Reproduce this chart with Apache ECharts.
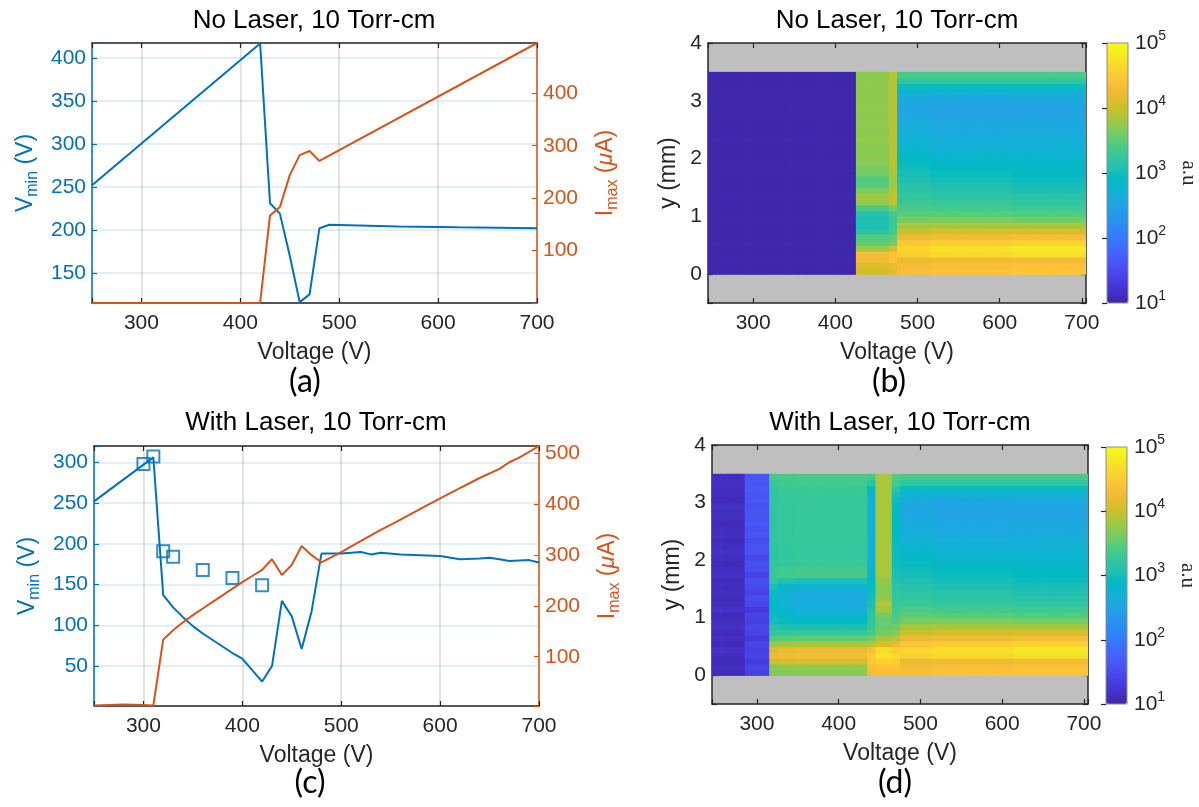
<!DOCTYPE html>
<html>
<head>
<meta charset="utf-8">
<title>Vmin / Imax and emission maps, 10 Torr-cm</title>
<script src="https://cdn.jsdelivr.net/npm/echarts@6/dist/echarts.min.js"></script>
<style>
  html, body { margin: 0; padding: 0; background: #fff; }
  #chart { width: 1199px; height: 807px; }
</style>
</head>
<body>
<div id="chart"></div>
<script>
// ---- panel (a): no laser ----
var vminVoltA = [250, 420, 430, 440, 450, 460, 470, 480, 490, 560, 620, 700];
var vminA = [252, 417, 231, 219, 170, 116, 125, 202, 206, 204, 203, 202];
var imaxVoltA = [250, 420, 430, 440, 450, 460, 470, 480, 700];
var imaxA = [0, 0, 167, 183, 244, 282, 290, 271, 496];

// ---- panel (c): with laser ----
var vminVoltC = [250, 310, 320, 330, 340, 350, 360, 370, 380, 390, 400, 410, 420,
  430, 440, 450, 460, 470, 480,
  500, 520, 530, 540, 560, 580, 600, 620, 640, 650, 660, 670, 690, 700];
var vminC = [252, 306, 137, 122, 110, 99, 90, 82, 74, 66, 59, 45, 31,
  50, 130, 111, 71, 117, 188,
  188, 190, 187, 189, 187, 186, 185, 181, 182, 183, 181, 179, 180, 177];
var imaxVoltC = [250, 280, 300, 310,
  320, 330, 340, 350, 360, 370, 380, 390, 400, 410, 420, 430, 440, 450, 460, 470, 480,
  500, 520, 540, 560, 580, 600, 620, 640, 660, 670, 680, 700];
var imaxC = [4, 6, 5, 4,
  134, 152, 168, 182, 195, 208, 221, 234, 247, 259, 271, 292, 261, 281, 318, 300, 286,
  306, 328, 350, 370, 391, 412, 432, 452, 470, 483, 492, 515];
var markVoltC = [300, 310, 320, 330, 360, 390, 420];
var markC = [298, 307, 191, 184, 168, 158, 149];

// ---- maps (b) and (d): log10 of intensity, columns of 10 V, rows of 0.1 mm ----
var cellVolt = [250, 260, 270, 280, 290, 300, 310, 320, 330, 340, 350, 360, 370, 380, 390,
  400, 410, 420, 430, 440, 450, 460, 470, 480, 490, 500, 510, 520, 530, 540, 550,
  560, 570, 580, 590, 600, 610, 620, 630, 640, 650, 660, 670, 680, 690, 700];
var cellY = [0.05, 0.15, 0.25, 0.35, 0.45, 0.55, 0.65, 0.75, 0.85, 0.95,
  1.05, 1.15, 1.25, 1.35, 1.45, 1.55, 1.65, 1.75, 1.85, 1.95,
  2.05, 2.15, 2.25, 2.35, 2.45, 2.55, 2.65, 2.75, 2.85, 2.95,
  3.05, 3.15, 3.25, 3.35, 3.45];

// vertical profiles, bottom (y = 0.05) to top (y = 3.45)
var darkB = [1.02, 1.02, 1.03, 1.02, 1.02, 1.03, 1.02, 1.02, 1.02, 1.03,
  1.02, 1.02, 1.02, 1.03, 1.02, 1.02, 1.02, 1.02, 1.03, 1.02,
  1.02, 1.02, 1.02, 1.03, 1.02, 1.02, 1.02, 1.02, 1.02, 1.03,
  1.02, 1.02, 1.02, 1.02, 1.02];
var col430B = [4.05, 4.1, 4.25, 4.3, 3.8, 3.5, 3.45, 3.15, 3.05, 3.05,
  3.1, 3.4, 3.75, 3.8, 3.65, 3.45, 3.45, 3.6, 3.62, 3.7,
  3.72, 3.7, 3.72, 3.74, 3.72, 3.72, 3.74, 3.72, 3.72, 3.74,
  3.72, 3.72, 3.74, 3.72, 3.72];
var col470B = [4.15, 4.2, 4.4, 4.45, 4.1, 3.6, 3.5, 3.35, 3.3, 3.3,
  3.35, 3.6, 3.95, 4.0, 3.9, 3.8, 3.8, 3.85, 3.88, 3.9,
  3.9, 3.9, 3.9, 3.9, 3.9, 3.9, 3.9, 3.9, 3.9, 3.9,
  3.9, 3.9, 3.9, 3.9, 3.9];
var afterNear = [4.35, 4.3, 4.2, 4.55, 4.62, 4.45, 4.22, 4.02, 3.82, 3.62,
  3.5, 3.4, 3.3, 3.24, 3.18, 3.12, 3.07, 3.02, 2.97, 2.92,
  2.87, 2.82, 2.77, 2.72, 2.68, 2.64, 2.6, 2.58, 2.56, 2.56,
  2.6, 2.74, 2.95, 3.2, 3.4];
var afterMid = [4.4, 4.35, 4.25, 4.65, 4.72, 4.52, 4.28, 4.06, 3.84, 3.63,
  3.48, 3.36, 3.27, 3.19, 3.12, 3.06, 3.0, 2.95, 2.9, 2.85,
  2.8, 2.75, 2.7, 2.66, 2.62, 2.58, 2.55, 2.53, 2.52, 2.52,
  2.56, 2.71, 2.95, 3.2, 3.4];
var afterFar = [4.45, 4.4, 4.3, 4.72, 4.82, 4.58, 4.33, 4.08, 3.84, 3.6,
  3.45, 3.32, 3.22, 3.14, 3.07, 3.01, 2.96, 2.91, 2.87, 2.83,
  2.79, 2.75, 2.71, 2.67, 2.63, 2.59, 2.56, 2.54, 2.53, 2.53,
  2.57, 2.71, 2.95, 3.2, 3.4];
var darkD = [1.1, 1.15, 1.08, 1.12, 1.18, 1.1, 1.14, 1.08, 1.16, 1.12,
  1.1, 1.18, 1.12, 1.08, 1.15, 1.12, 1.1, 1.16, 1.12, 1.1,
  1.14, 1.18, 1.12, 1.1, 1.15, 1.12, 1.08, 1.14, 1.12, 1.16,
  1.1, 1.13, 1.12, 1.15, 1.12];
var col290D = [1.35, 1.4, 1.3, 1.4, 1.35, 1.42, 1.3, 1.4, 1.45, 1.35,
  1.42, 1.3, 1.45, 1.5, 1.4, 1.48, 1.52, 1.4, 1.5, 1.55,
  1.45, 1.55, 1.58, 1.5, 1.6, 1.55, 1.62, 1.58, 1.6, 1.55,
  1.62, 1.6, 1.65, 1.6, 1.62];
var col320D = [3.65, 3.7, 4.05, 4.25, 4.15, 3.8, 3.45, 3.25, 3.1, 3.0,
  2.95, 2.92, 2.9, 2.9, 2.95, 3.05, 3.2, 3.3, 3.3, 3.22,
  3.2, 3.2, 3.2, 3.2, 3.2, 3.2, 3.2, 3.2, 3.2, 3.2,
  3.2, 3.22, 3.25, 3.3, 3.35];
var col330D = [3.68, 3.72, 4.08, 4.28, 4.18, 3.82, 3.48, 3.25, 3.07, 2.94,
  2.84, 2.78, 2.74, 2.72, 2.74, 2.85, 3.1, 3.36, 3.33, 3.26,
  3.23, 3.23, 3.24, 3.25, 3.26, 3.26, 3.26, 3.26, 3.26, 3.26,
  3.26, 3.28, 3.29, 3.33, 3.38];
var col350D = [3.7, 3.75, 4.1, 4.3, 4.2, 3.85, 3.5, 3.25, 3.05, 2.9,
  2.78, 2.7, 2.64, 2.6, 2.62, 2.75, 3.05, 3.4, 3.35, 3.28,
  3.25, 3.25, 3.26, 3.27, 3.28, 3.28, 3.28, 3.28, 3.28, 3.28,
  3.28, 3.3, 3.3, 3.35, 3.4];
var col440D = [4.3, 4.35, 4.45, 4.5, 4.35, 3.9, 3.6, 3.4, 3.3, 3.25,
  3.2, 3.1, 3.05, 3.0, 2.95, 2.9, 2.85, 2.8, 2.75, 2.72,
  2.7, 2.7, 2.7, 2.7, 2.7, 2.7, 2.7, 2.7, 2.7, 2.7,
  2.7, 2.75, 2.9, 3.15, 3.35];
var col450D = [4.35, 4.4, 4.55, 4.75, 4.7, 4.1, 3.85, 3.6, 3.55, 3.55,
  3.6, 3.85, 3.9, 3.75, 3.7, 3.7, 3.75, 3.85, 3.85, 3.85,
  3.85, 3.85, 3.85, 3.85, 3.85, 3.85, 3.85, 3.85, 3.85, 3.85,
  3.85, 3.85, 3.85, 3.85, 3.85];
var col470D = [4.35, 4.4, 4.55, 4.65, 4.5, 4.2, 3.9, 3.7, 3.55, 3.45,
  3.38, 3.32, 3.28, 3.25, 3.2, 3.15, 3.1, 3.05, 3.0, 2.98,
  2.95, 2.95, 2.93, 2.92, 2.9, 2.9, 2.9, 2.9, 2.9, 2.9,
  2.95, 3.05, 3.2, 3.35, 3.45];

// which profile starts at which voltage
var bandStartB = [250, 430, 470, 480, 520, 620];
var bandProfileB = [darkB, col430B, col470B, afterNear, afterMid, afterFar];
var bandStartD = [250, 290, 320, 330, 350, 440, 450, 470, 480, 520, 620];
var bandProfileD = [darkD, col290D, col320D, col330D, col350D, col440D, col450D, col470D,
  afterNear, afterMid, afterFar];

var FONT = '"Liberation Sans", Arial, Helvetica, sans-serif';
var LETTER_FONT = 'Lato, "Open Sans", sans-serif';
var BLUE = '#0072BD';
var ORANGE = '#D95319';
var INK = '#262626';
var PARULA = ['#3e26a8', '#4432cb', '#4741e5', '#4852f4', '#4563fd', '#3875fe', '#2e87f7',
  '#2796eb', '#20a5e3', '#12b1d6', '#02bac3', '#24c1ae', '#37c897', '#57cc7a', '#81cc59',
  '#abc739', '#d1bf27', '#f0ba36', '#fec338', '#fad62d', '#f5e924', '#f9fb15'];

function pairs(xs, ys) {
  return xs.map(function (x, i) { return [x, ys[i]]; });
}

function buildCells(starts, profiles) {
  var out = [];
  cellVolt.forEach(function (v) {
    var k = 0;
    var i;
    for (i = 0; i < starts.length; i++) {
      if (v >= starts[i]) {
        k = i;
      }
    }
    cellY.forEach(function (y, j) {
      out.push([v, y, profiles[k][j]]);
    });
  });
  return out;
}

function showEvery(step, low) {
  return function (v) {
    return (Math.abs(v % step) < 1e-9 && v >= low) ? String(v) : '';
  };
}

function xBottom(grid, min, max, split) {
  return {
    type: 'value', gridIndex: grid, min: min, max: max, position: 'bottom',
    name: 'Voltage (V)', nameLocation: 'middle', nameGap: 38,
    nameTextStyle: { color: INK, fontSize: 23, fontFamily: FONT },
    axisLine: { onZero: false, lineStyle: { color: INK, width: 1.5 } },
    axisTick: { inside: true, length: 5, lineStyle: { color: INK, width: 1.2 } },
    axisLabel: { color: INK, fontSize: 21, fontFamily: FONT, margin: 10, formatter: showEvery(100, 300) },
    splitLine: { show: split, lineStyle: { color: 'rgba(38,38,38,0.17)', width: 1.5 } }
  };
}

function xTop(grid, min, max) {
  return {
    type: 'value', gridIndex: grid, min: min, max: max, position: 'top',
    axisLine: { onZero: false, lineStyle: { color: INK, width: 1.5 } },
    axisTick: { inside: true, length: 5, lineStyle: { color: INK, width: 1.2 } },
    axisLabel: { show: false },
    splitLine: { show: false }
  };
}

function ySide(grid, min, max, pos, color, fmt, name, gap, split) {
  return {
    type: 'value', gridIndex: grid, min: min, max: max, position: pos,
    name: name, nameLocation: 'middle', nameGap: gap,
    nameTextStyle: {
      color: color, fontSize: 23, fontFamily: FONT, lineHeight: 30,
      rich: {
        sub: { fontSize: 16, color: color, fontFamily: FONT, verticalAlign: 'bottom', lineHeight: 30 },
        mu: { fontSize: 23, color: color, fontFamily: FONT, fontStyle: 'italic' }
      }
    },
    axisLine: { onZero: false, lineStyle: { color: color, width: 1.5 } },
    axisTick: { inside: true, length: 5, lineStyle: { color: color, width: 1.2 } },
    axisLabel: { show: !!fmt, color: color, fontSize: 21, fontFamily: FONT, margin: 6, formatter: fmt || '' },
    splitLine: { show: split, lineStyle: { color: 'rgba(0,114,189,0.15)', width: 1.5 } }
  };
}

function colorAxis(grid) {
  return {
    type: 'value', gridIndex: grid, min: 1, max: 5, interval: 1, position: 'right', z: 7,
    name: 'a.u', nameLocation: 'middle', nameRotate: -90, nameGap: 50,
    nameTextStyle: { color: INK, fontSize: 21, fontFamily: '"Liberation Serif", "DejaVu Serif", serif' },
    axisLine: { show: false },
    axisTick: { inside: true, length: 5, lineStyle: { color: INK, width: 1.2 } },
    axisLabel: {
      color: INK, fontSize: 21, fontFamily: FONT, margin: 7, lineHeight: 28,
      formatter: function (v) { return '10{sup|' + v + '}'; },
      rich: { sup: { fontSize: 14, fontFamily: FONT, color: INK, verticalAlign: 'top', lineHeight: 28 } }
    },
    splitLine: { show: false }
  };
}

function heatSeries(xIdx, yIdx, data) {
  var dv = cellVolt[1] - cellVolt[0];
  var dy = cellY[1] - cellY[0];
  return {
    type: 'custom', xAxisIndex: xIdx, yAxisIndex: yIdx, data: data, clip: true, silent: true,
    encode: { x: 0, y: 1 },
    renderItem: function (params, api) {
      var c = api.coord([api.value(0), api.value(1)]);
      var s = api.size([dv, dy]);
      return {
        type: 'rect',
        shape: { x: c[0] - s[0] / 2, y: c[1] - s[1] / 2, width: s[0] + 0.7, height: s[1] + 0.7 },
        style: { fill: api.visual('color') }
      };
    }
  };
}

function lineSeries(xIdx, yIdx, data, color) {
  return {
    type: 'line', xAxisIndex: xIdx, yAxisIndex: yIdx, data: data,
    showSymbol: false, symbol: 'none', silent: true,
    lineStyle: { color: color, width: 2 }
  };
}

function label(text, x, y, size, family) {
  return {
    type: 'text', x: x, y: y, silent: true,
    style: {
      text: text, fill: '#000', fontSize: size, fontFamily: family || FONT,
      align: 'center', verticalAlign: 'middle', textAlign: 'center', textVerticalAlign: 'middle'
    }
  };
}

var grids = [
  { left: 92, top: 43, width: 445, height: 260 },
  { left: 94, top: 446, width: 445, height: 260 },
  { left: 708, top: 43, width: 378, height: 260, show: true, backgroundColor: '#bfbfbf', borderWidth: 0 },
  { left: 712, top: 445, width: 376, height: 259, show: true, backgroundColor: '#bfbfbf', borderWidth: 0 },
  { left: 1107, top: 43, width: 21, height: 260, show: true, backgroundColor: 'transparent', borderColor: '#8c8c8c', borderWidth: 1, z: 6 },
  { left: 1106, top: 447, width: 21, height: 257, show: true, backgroundColor: 'transparent', borderColor: '#8c8c8c', borderWidth: 1, z: 6 }
];
grids.forEach(function (g) { g.outerBoundsMode = 'none'; g.containLabel = false; });

function hiddenX(grid) {
  return { type: 'value', gridIndex: grid, min: 0, max: 1, show: false };
}

var option = {
  animation: false,
  backgroundColor: '#ffffff',
  textStyle: { fontFamily: FONT },
  grid: grids,
  xAxis: [
    xBottom(0, 250, 700, true), xTop(0, 250, 700),
    xBottom(1, 250, 700, true), xTop(1, 250, 700),
    xBottom(2, 245, 705, false), xTop(2, 245, 705),
    xBottom(3, 245, 705, false), xTop(3, 245, 705),
    hiddenX(4), hiddenX(5)
  ],
  yAxis: [
    ySide(0, 115, 417.5, 'left', BLUE, showEvery(50, 150), 'V{sub|min} (V)', 51, true),
    ySide(0, 0, 496, 'right', ORANGE, showEvery(100, 100), 'I{sub|max} ({mu|μ}A)', 54, false),
    ySide(1, 1, 320, 'left', BLUE, showEvery(50, 50), 'V{sub|min} (V)', 51, true),
    ySide(1, 3, 515, 'right', ORANGE, showEvery(100, 100), 'I{sub|max} ({mu|μ}A)', 54, false),
    ySide(2, -0.5, 4, 'left', INK, showEvery(1, 0), 'y (mm)', 24, false),
    ySide(2, -0.5, 4, 'right', INK, null, '', 0, false),
    ySide(3, -0.5, 4, 'left', INK, showEvery(1, 0), 'y (mm)', 24, false),
    ySide(3, -0.5, 4, 'right', INK, null, '', 0, false),
    colorAxis(4), colorAxis(5)
  ],
  visualMap: [
    {
      type: 'continuous', seriesIndex: 5, dimension: 2, min: 1, max: 5,
      calculable: false, orient: 'vertical', left: 1107, top: 43, padding: 0,
      itemWidth: 21, itemHeight: 260, text: null, hoverLink: false,
      inRange: { color: PARULA }
    },
    {
      type: 'continuous', seriesIndex: 6, dimension: 2, min: 1, max: 5,
      calculable: false, orient: 'vertical', left: 1106, top: 447, padding: 0,
      itemWidth: 21, itemHeight: 257, text: null, hoverLink: false,
      inRange: { color: PARULA }
    }
  ],
  series: [
    lineSeries(0, 0, pairs(vminVoltA, vminA), BLUE),
    lineSeries(0, 1, pairs(imaxVoltA, imaxA), ORANGE),
    lineSeries(2, 2, pairs(vminVoltC, vminC), BLUE),
    lineSeries(2, 3, pairs(imaxVoltC, imaxC), ORANGE),
    {
      type: 'scatter', xAxisIndex: 2, yAxisIndex: 2, data: pairs(markVoltC, markC),
      symbol: 'rect', symbolSize: 12, silent: true,
      itemStyle: { color: 'rgba(0,0,0,0)', borderColor: BLUE, borderWidth: 2 }
    },
    heatSeries(4, 4, buildCells(bandStartB, bandProfileB)),
    heatSeries(6, 6, buildCells(bandStartD, bandProfileD))
  ],
  graphic: [
    label('No Laser, 10 Torr-cm', 314, 21, 26),
    label('No Laser, 10 Torr-cm', 897, 21, 26),
    label('With Laser, 10 Torr-cm', 316, 423, 26),
    label('With Laser, 10 Torr-cm', 900, 423, 26),
    label('(a)', 305, 382, 32, LETTER_FONT),
    label('(b)', 889, 382, 32, LETTER_FONT),
    label('(c)', 310, 783, 32, LETTER_FONT),
    label('(d)', 895, 783, 32, LETTER_FONT)
  ]
};

var chart = echarts.init(document.getElementById('chart'));
chart.setOption(option);
window.onresize = chart.resize;
</script>
</body>
</html>
